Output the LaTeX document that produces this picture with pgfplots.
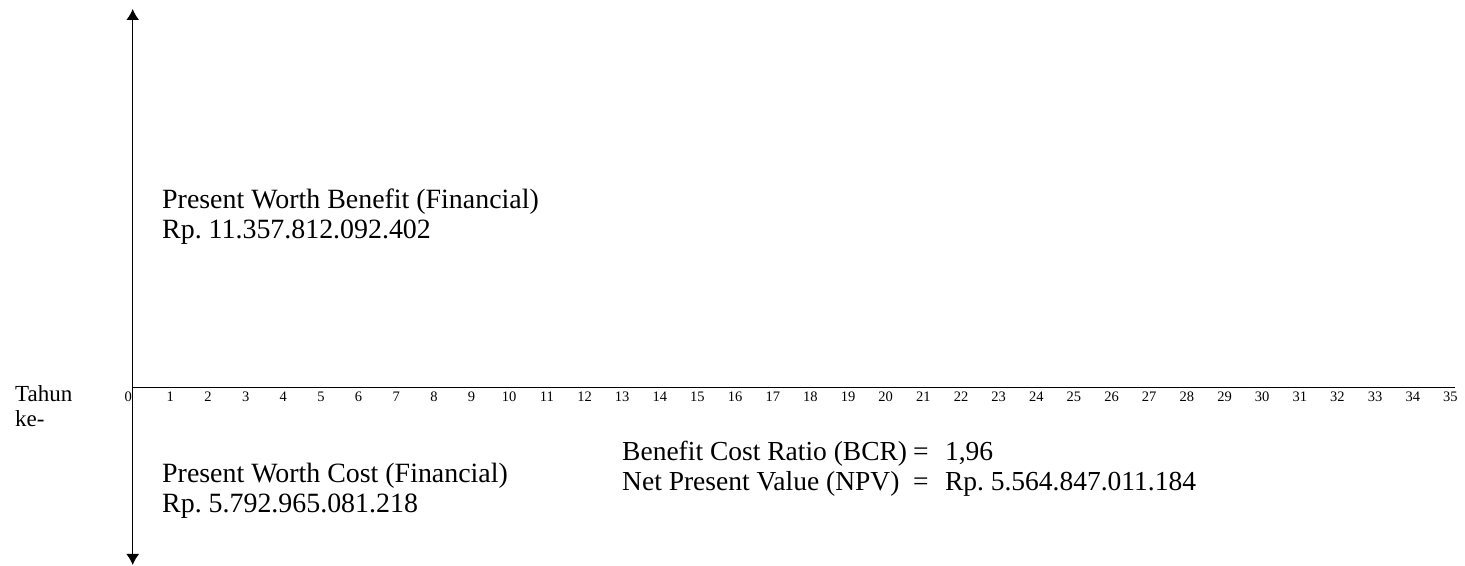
\documentclass[border=0pt]{standalone}
\usepackage{pgfplots}
\pgfplotsset{compat=1.18}
\usepackage{fontspec}
\setmainfont{Liberation Serif}
\usetikzlibrary{arrows.meta}
\frenchspacing
\begin{document}
\begin{tikzpicture}
\begin{axis}[
  scale only axis,
  width=1465pt, height=566pt,
  xmin=-3.525, xmax=35.387,
  ymin=-178.3, ymax=387.7,
  axis x line=middle,
  axis y line=none,
  x axis line style={draw=none},
  xtick={1,...,35},
  extra x ticks={0},
  extra x tick style={xticklabel style={xshift=-4.5pt}},
  major tick length=0pt,
  /pgf/number format/assume math mode=true,
  xticklabel style={font=\fontsize{14.5}{16}\selectfont, inner sep=0pt, anchor=base, yshift=-14.3pt},
  clip=false,
]
\addplot[draw=none] coordinates {(-3.525,-178.3) (35.387,387.7)};
\addplot[black, line width=1.3pt] coordinates {(0,0) (35.12,0)};
\addplot[black, line width=1.3pt, {Latex[length=11pt,width=13pt]}-{Latex[length=11pt,width=13pt]}] coordinates {(0,378.7) (0,-177.3)};

\node[anchor=base west, inner sep=0pt, font=\fontsize{27.9}{30}\selectfont] at (axis cs:0.778,178.7) {Present Worth Benefit (Financial)};
\node[anchor=base west, inner sep=0pt, font=\fontsize{27.9}{30}\selectfont] at (axis cs:0.778,148.7) {Rp.\ 11.357.812.092.402};
\node[anchor=base west, inner sep=0pt, font=\fontsize{27.9}{30}\selectfont] at (axis cs:0.778,-95.3) {Present Worth Cost (Financial)};
\node[anchor=base west, inner sep=0pt, font=\fontsize{27.9}{30}\selectfont] at (axis cs:0.778,-125.3) {Rp.\ 5.792.965.081.218};
\node[anchor=base west, inner sep=0pt, font=\fontsize{27.5}{30}\selectfont] at (axis cs:12.996,-73.3) {Benefit Cost Ratio (BCR)};
\node[anchor=base west, inner sep=0pt, font=\fontsize{27.5}{30}\selectfont] at (axis cs:20.72,-73.3) {=};
\node[anchor=base west, inner sep=0pt, font=\fontsize{27.5}{30}\selectfont] at (axis cs:21.57,-73.3) {1,96};
\node[anchor=base west, inner sep=0pt, font=\fontsize{27.5}{30}\selectfont] at (axis cs:12.996,-103.3) {Net Present Value (NPV)};
\node[anchor=base west, inner sep=0pt, font=\fontsize{27.5}{30}\selectfont] at (axis cs:20.72,-103.3) {=};
\node[anchor=base west, inner sep=0pt, font=\fontsize{27.5}{30}\selectfont] at (axis cs:21.57,-103.3) {Rp.\ 5.564.847.011.184};
\node[anchor=base west, inner sep=0pt, font=\fontsize{23}{25}\selectfont] at (axis cs:-3.126,-14.3) {Tahun};
\node[anchor=base west, inner sep=0pt, font=\fontsize{23}{25}\selectfont] at (axis cs:-3.126,-39.3) {ke-};
\end{axis}
\end{tikzpicture}
\end{document}
